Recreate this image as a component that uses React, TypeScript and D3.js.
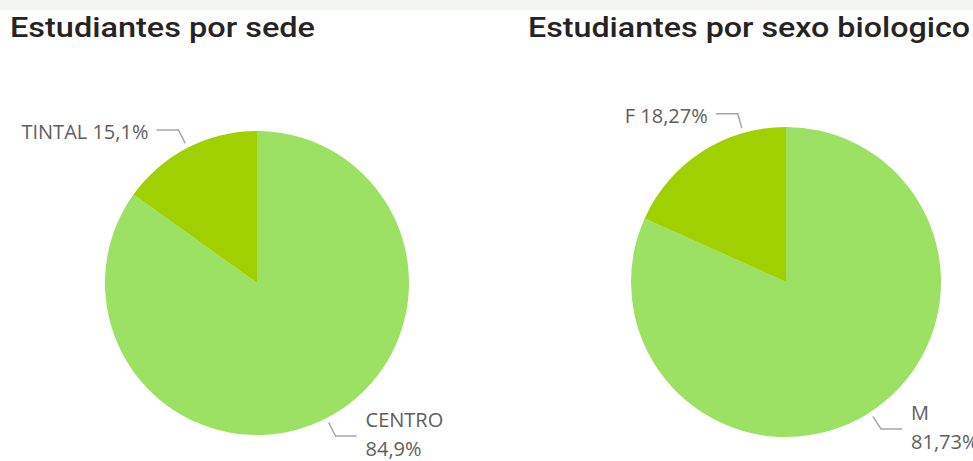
import { useMemo } from 'react';
import { pie, arc, PieArcDatum } from 'd3';

// data
const sedeCategories = ['CENTRO', 'TINTAL'];
const sedeValues = [84.9, 15.1];
const sedeLabels = ['84,9%', '15,1%'];

const sexoCategories = ['M', 'F'];
const sexoValues = [81.73, 18.27];
const sexoLabels = ['81,73%', '18,27%'];

const colors = ['#9ce064', '#a0d000'];

type Slice = { name: string; value: number; label: string };

/* One Power BI style pie with outside labels */
function PieChart({ title, titleWidth, x, cx, cy, r, names, values, labels, anchorOverride }: any) {
    const data: Slice[] = names.map((n: string, i: number) => ({ name: n, value: values[i], label: labels[i] }));

    const arcs = useMemo(() => pie<Slice>().sort(null).value(d => d.value)(data), [names, values]);
    const arcGen = arc<PieArcDatum<Slice>>().innerRadius(0).outerRadius(r);

    return (
        <g>
            <text x={x} y={37} fontFamily="Roboto, sans-serif" fontWeight={500} fontSize={28}
                fill="#252423" textLength={titleWidth} lengthAdjust="spacingAndGlyphs">{title}</text>
            <g transform={`translate(${cx},${cy})`}>
                {arcs.map((a, i) => (
                    <path key={i} d={arcGen(a) || ''} fill={colors[i]} />
                ))}
                {arcs.map((a, i) => {
                    // label anchor on the rim (Power BI nudges some of them)
                    let ang = (a.startAngle + a.endAngle) / 2;
                    if (anchorOverride && anchorOverride[i] != null) ang = anchorOverride[i];
                    const sx = Math.sin(ang), sy = -Math.cos(ang);
                    const p0 = [sx * (r + 5), sy * (r + 5)];
                    const p1 = [sx * (r + 20), sy * (r + 20)];
                    const right = sx > 0;
                    const p2 = [p1[0] + (right ? 21 : -22), p1[1]];
                    const tx = p2[0] + (right ? 9 : -8);
                    const top = sy < 0;
                    return (
                        <g key={'l' + i}>
                            <polyline points={[p0, p1, p2].map(p => p.join(',')).join(' ')}
                                fill="none" stroke="#a6a6a6" strokeWidth={1.5} />
                            {top ? (
                                <text x={tx} y={p1[1] + 9} textAnchor={right ? 'start' : 'end'}
                                    fontFamily="'Open Sans', sans-serif" fontSize={20} fill="#605e5c">
                                    {a.data.name} {a.data.label}
                                </text>
                            ) : (
                                <text x={tx} y={p1[1] - 9} textAnchor={right ? 'start' : 'end'}
                                    fontFamily="'Open Sans', sans-serif" fontSize={20} fill="#605e5c">
                                    <tspan x={tx}>{a.data.name}</tspan>
                                    <tspan x={tx} dy={29}>{a.data.label}</tspan>
                                </text>
                            )}
                        </g>
                    );
                })}
            </g>
        </g>
    );
}

export default function App() {
    return (
        <div style={{ position: 'fixed', left: 0, top: 0, width: 973, height: 461, overflow: 'hidden', background: '#fff' }}>
            <svg width={973} height={461}>
                <rect x={0} y={0} width={973} height={10} fill="#f3f5f3" />
                <PieChart title="Estudiantes por sede" titleWidth={305} x={10} cx={257} cy={283} r={152}
                    names={sedeCategories} values={sedeValues} labels={sedeLabels} />
                <PieChart title="Estudiantes por sexo biologico" titleWidth={442} x={528} cx={786} cy={282} r={155}
                    names={sexoCategories} values={sexoValues} labels={sexoLabels}
                    anchorOverride={[null, (344 / 180) * Math.PI]} />
            </svg>
        </div>
    );
}
